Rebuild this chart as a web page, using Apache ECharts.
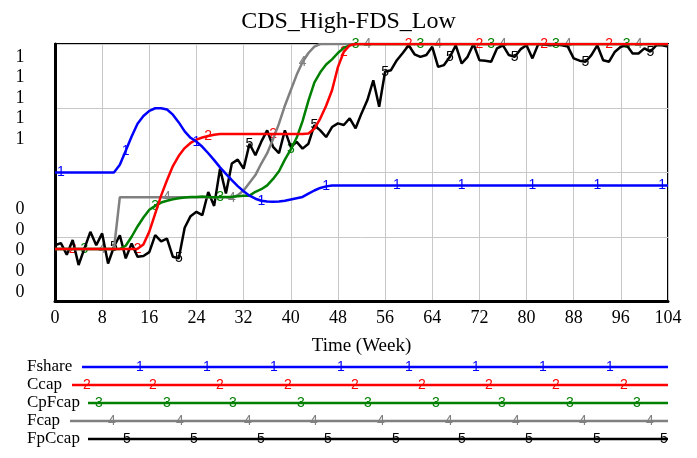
<!DOCTYPE html>
<html>
<head>
<meta charset="utf-8">
<script src="https://cdn.jsdelivr.net/npm/echarts@6/dist/echarts.min.js"></script>
<style>
html, body { margin: 0; padding: 0; background: #fff; }
#main { width: 697px; height: 458px; }
</style>
</head>
<body>
<div id="main"></div>
<script>
// values per week, 0..104 (index = week)
var fshare = [0.5,0.5,0.5,0.5,0.5,0.5,0.5,0.5,0.5,0.5,0.5,
	0.53,0.585,0.64,0.69,0.72,0.74,0.75,0.75,0.745,0.725,0.695,0.66,0.635,0.62,0.6,0.575,0.548,0.52,0.495,
	0.47,0.447,0.427,0.41,0.398,0.39,0.387,0.386,0.387,0.39,0.395,0.4,0.405,0.418,0.43,0.44,0.446,
	0.449,0.449,0.449,0.449,0.449,0.449,0.449,0.449,0.449,0.449,0.449,0.449,0.449,0.449,0.449,0.449,0.449,0.449,0.449,0.449,
	0.449,0.449,0.449,0.449,0.449,0.449,0.449,0.449,0.449,0.449,0.449,0.449,0.449,0.449,0.449,0.449,0.449,0.449,0.449,0.449,
	0.449,0.449,0.449,0.449,0.449,0.449,0.449,0.449,0.449,0.449,0.449,0.449,0.449,0.449,0.449,0.449,0.449,0.449];
var ccap = [0.202,0.202,0.202,0.202,0.202,0.202,0.202,0.202,0.202,0.202,0.202,0.202,0.202,0.202,
	0.203,0.22,0.27,0.34,0.41,0.47,0.525,0.565,0.595,0.615,0.628,0.636,0.642,0.647,
	0.65,0.65,0.65,0.65,0.65,0.65,0.65,0.65,0.65,0.65,0.65,0.65,0.65,0.65,0.65,
	0.652,0.67,0.71,0.76,0.82,0.91,0.97,0.995,
	1,1,1,1,1,1,1,1,1,1,1,1,1,1,1,1,1,1,1,1,1,1,1,1,1,1,1,1,1,1,1,1,1,1,1,1,1,1,1,1,1,1,1,1,1,1,1,1,1,1,1,1,1,1];
var cpfcap = [0.202,0.202,0.202,0.202,0.202,0.202,0.202,0.202,0.202,0.202,0.202,0.202,
	0.215,0.25,0.29,0.325,0.355,0.37,0.383,0.39,0.396,0.4,0.403,0.405,0.405,0.407,0.405,0.404,0.405,0.405,0.406,0.408,0.41,
	0.41,0.425,0.435,0.45,0.475,0.505,0.55,0.59,0.635,0.7,0.78,0.85,0.89,0.92,0.94,0.965,0.985,0.995,
	1,1,1,1,1,1,1,1,1,1,1,1,1,1,1,1,1,1,1,1,1,1,1,1,1,1,1,1,1,1,1,1,1,1,1,1,1,1,1,1,1,1,1,1,1,1,1,1,1,1,1,1,1,1];
var fcap = [0.202,0.202,0.202,0.202,0.202,0.202,0.202,0.202,0.202,0.202,0.202,
	0.404,0.404,0.404,0.404,0.404,0.404,0.404,0.404,0.404,0.404,0.404,0.404,0.404,0.404,0.404,0.404,0.404,0.404,0.404,
	0.4,0.412,0.43,0.46,0.49,0.535,0.575,0.63,0.69,0.76,0.82,0.88,0.93,0.965,0.99,
	1,1,1,1,1,1,1,1,1,1,1,1,1,1,1,1,1,1,1,1,1,1,1,1,1,1,1,1,1,1,1,1,1,1,1,1,1,1,1,1,1,1,1,1,1,1,1,1,1,1,1,1,1,1,1,1,1,1,1,1];
var fpccap = [0.217,0.225,0.18,0.237,0.14,0.205,0.269,0.217,0.263,0.146,
	0.211,0.256,0.166,0.224,0.172,0.175,0.19,0.256,0.232,0.243,
	0.172,0.166,0.285,0.33,0.347,0.334,0.424,0.37,0.515,0.418,
	0.535,0.55,0.515,0.612,0.567,0.62,0.664,0.6,0.575,0.664,
	0.6,0.619,0.593,0.612,0.684,0.664,0.638,0.677,0.691,0.685,
	0.711,0.672,0.73,0.782,0.859,0.756,0.892,0.898,0.937,0.965,
	0.995,0.96,0.95,0.957,0.989,0.911,0.918,0.95,0.995,0.924,
	0.95,1.0,0.937,0.935,0.931,0.983,0.995,0.957,0.95,0.98,
	0.995,0.944,1.0,0.998,0.995,0.998,0.995,0.99,0.944,0.935,
	0.931,0.957,0.995,0.937,0.931,0.97,0.989,0.995,0.963,0.963,
	0.983,0.97,0.995,0.995,0.99];

// weeks where the series number is written on the line
var marks1 = [1, 12, 24, 35, 46, 58, 69, 81, 92, 103];
var marks2 = [3, 14, 26, 37, 49, 60, 72, 83, 94];
var marks3 = [5, 17, 28, 40, 51, 62, 74, 85, 97];
var marks4 = [8, 19, 30, 42, 53, 65, 76, 87, 99];
var marks5 = [10, 21, 33, 44, 56, 67, 78, 90, 101];

var names = ['Fshare', 'Ccap', 'CpFcap', 'Fcap', 'FpCcap'];
var topLabels = ['1', '1', '1', '1', '1'];
var bottomLabels = ['0', '0', '0', '0', '0'];

var colors = ['#0000ff', '#ff0000', '#008000', '#808080', '#000000'];
var serif = '"Liberation Serif", "Times New Roman", serif';
var sans = '"Liberation Sans", Arial, sans-serif';

var chart = echarts.init(document.getElementById('main'));

function makeSeries(i, data, marks) {
	var c = colors[i];
	return {
		name: names[i],
		type: 'line',
		z: 10 - i,
		showSymbol: false,
		symbol: 'none',
		lineStyle: { color: c, width: 2.5 },
		itemStyle: { color: c },
		data: data.map(function(v, w) { return [w, v]; }),
		markPoint: {
			symbol: 'circle',
			symbolSize: 1,
			itemStyle: { color: 'rgba(0,0,0,0)' },
			label: {
				show: true,
				position: 'inside',
				formatter: String(i + 1),
				color: c,
				fontSize: 14,
				fontFamily: sans
			},
			data: marks.map(function(w) { return { coord: [w, data[w]] }; })
		}
	};
}

// stacked scale labels + legend, drawn as graphic elements
var graphic = [];
var topY = [57, 77, 98, 118, 139];
var botY = [209, 230, 250, 271, 292];
topLabels.forEach(function(t, k) {
	graphic.push({ type: 'text', style: { text: t, x: 20, y: topY[k], align: 'center', verticalAlign: 'middle', font: '18px ' + serif, fill: '#000' } });
});
bottomLabels.forEach(function(t, k) {
	graphic.push({ type: 'text', style: { text: t, x: 20, y: botY[k], align: 'center', verticalAlign: 'middle', font: '18px ' + serif, fill: '#000' } });
});

var rowY = [367, 385, 403, 421, 439];
var lineStart = [82, 72, 88, 70, 88];
var legendMarkX = [
	[140, 207, 274, 341, 409, 476, 543, 610],
	[87, 153, 220, 288, 355, 422, 489, 556, 624],
	[99, 167, 233, 301, 368, 436, 502, 570, 637],
	[112, 180, 248, 314, 381, 449, 516, 583, 650],
	[127, 194, 261, 328, 396, 462, 529, 597, 664]
];
names.forEach(function(n, i) {
	graphic.push({ type: 'text', style: { text: n, x: 27, y: rowY[i], align: 'left', verticalAlign: 'middle', font: '17px ' + serif, fill: '#000' } });
	graphic.push({ type: 'line', shape: { x1: lineStart[i], y1: rowY[i], x2: 668, y2: rowY[i] }, style: { stroke: colors[i], lineWidth: 2.5 } });
	legendMarkX[i].forEach(function(x) {
		graphic.push({ type: 'text', z: 10, style: { text: String(i + 1), x: x, y: rowY[i], align: 'center', verticalAlign: 'middle', font: '14px ' + sans, fill: colors[i] } });
	});
});

var option = {
	backgroundColor: '#fff',
	animation: false,
	title: {
		text: 'CDS_High-FDS_Low',
		left: 'center',
		top: 5,
		textStyle: { fontFamily: serif, fontSize: 24, fontWeight: 'normal', color: '#000' }
	},
	grid: {
		left: 55,
		right: 29,
		top: 44,
		bottom: 157,
		show: true,
		borderColor: '#000',
		borderWidth: 2
	},
	xAxis: {
		type: 'value',
		min: 0,
		max: 104,
		interval: 8,
		name: 'Time (Week)',
		nameLocation: 'middle',
		nameGap: 36,
		nameTextStyle: { fontFamily: serif, fontSize: 19, color: '#000' },
		axisLine: { show: true, lineStyle: { color: '#000', width: 3 } },
		axisTick: { show: false },
		axisLabel: { margin: 8, fontFamily: serif, fontSize: 18, color: '#000' },
		splitLine: { show: true, lineStyle: { color: '#c8c8c8', width: 1 } }
	},
	yAxis: {
		type: 'value',
		min: 0,
		max: 1,
		interval: 0.25,
		axisLine: { show: true, lineStyle: { color: '#000', width: 3 } },
		axisTick: { show: false },
		axisLabel: { show: false },
		splitLine: { show: true, lineStyle: { color: '#c8c8c8', width: 1 } }
	},
	graphic: graphic,
	series: [
		makeSeries(0, fshare, marks1),
		makeSeries(1, ccap, marks2),
		makeSeries(2, cpfcap, marks3),
		makeSeries(3, fcap, marks4),
		makeSeries(4, fpccap, marks5)
	]
};

chart.setOption(option);

window.onresize = function() {
	chart.resize();
};
</script>
</body>
</html>
